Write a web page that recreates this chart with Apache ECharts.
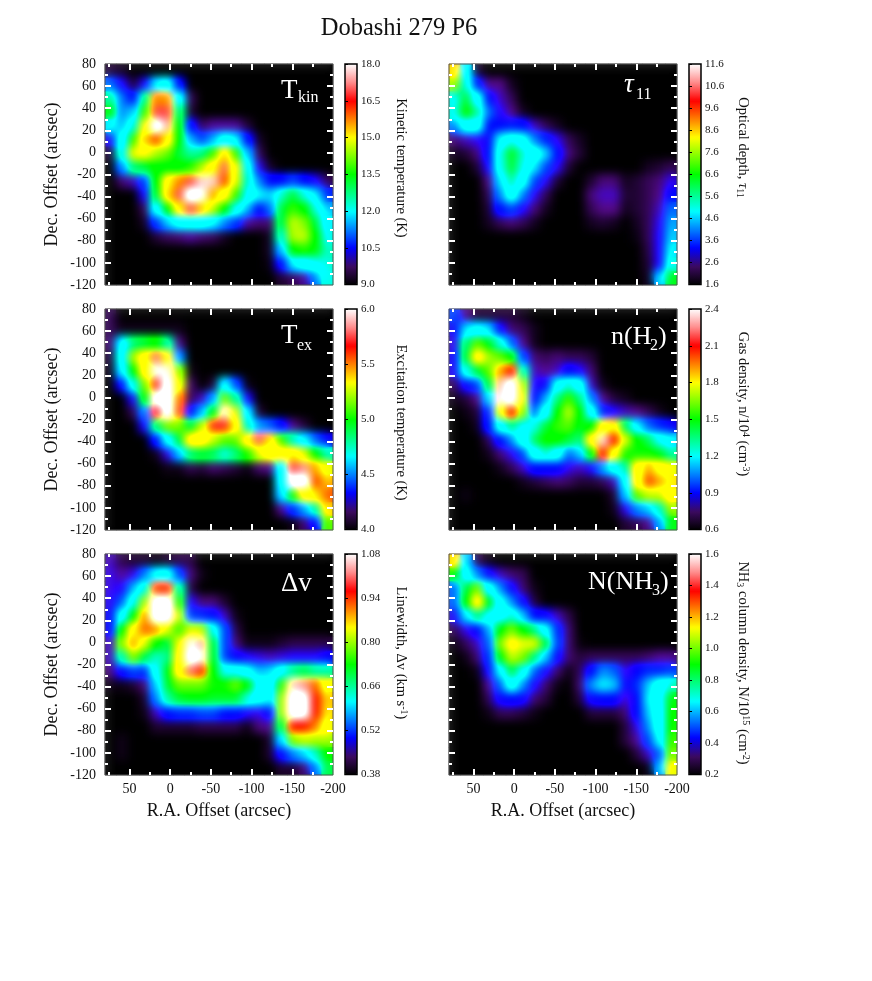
<!DOCTYPE html>
<html>
<head>
<meta charset="utf-8">
<title>Dobashi 279 P6</title>
<script src="https://cdn.jsdelivr.net/npm/echarts@6/dist/echarts.min.js"></script>
<style>
  html, body { margin: 0; background: #fff; }
  #maps, #frame { position: absolute; left: 0; top: 0; width: 872px; height: 981px; }
  .soft { position: absolute; width: 228px; height: 221px; backdrop-filter: blur(5px) brightness(1.35) saturate(1.15); }
</style>
</head>
<body>
<div id="maps"></div>
<div class="soft" style="left:105px;top:64px"></div>
<div class="soft" style="left:449px;top:64px"></div>
<div class="soft" style="left:105px;top:309px"></div>
<div class="soft" style="left:449px;top:309px"></div>
<div class="soft" style="left:105px;top:554px"></div>
<div class="soft" style="left:449px;top:554px"></div>
<div id="frame"></div>
<script>
var raOffsets = [73,59,45,31,17,3,-11,-25,-39,-53,-67,-81,-95,-109,-123,-137,-151,-165,-179,-193]
var decOffsets = [73.75,61.25,48.75,36.25,23.75,11.25,-1.25,-13.75,-26.25,-38.75,-51.25,-63.75,-76.25,-88.75,-101.25,-113.75]

var tkin = [
  [9.3,9.2,9,9,9,9,9,9,9,9,9,9,9,9,9,9,9,9,9,9],
  [11,10.2,9.3,10.2,11.7,12,10.5,9,9,9,9,9,9,9,9,9,9,9,9,9],
  [12.8,11,10.5,12.8,15.9,15.8,12,9.5,9,9,9,9,9,9,9,9,9,9,9,9],
  [13.5,11.1,11.4,13.8,16.8,16.8,12.9,9.3,9,9,9,9,9,9,9,9,9,9,9,9],
  [11.7,11.3,12.5,14.7,18,17.2,13.5,10.5,9.5,9.8,9.8,9.8,9.3,9,9,9,9,9,9,9],
  [10.2,12,13.8,15.6,16.2,15.3,13.5,11.3,10.8,11.3,12,11.7,10.5,9.2,9,9,9,9,9,9],
  [9.3,12.3,14.6,14.7,14.3,14,13.2,12.8,12.9,13.8,15.5,13.8,11.4,9.5,9,9,9,9,9,9],
  [9,11.1,12.9,13.2,13.5,13.5,13.5,13.7,14.3,15.3,16.9,14.7,12.3,10.1,9.2,9,9,9,9,9],
  [9,9.6,9.9,10.8,13.5,15.3,15.9,16.8,17.4,17.4,16.2,14.6,12.6,11.1,10.5,10.5,10.8,10.5,10.2,9.5],
  [9,9,9,10.2,13.2,15.5,16.8,18,17.7,15.8,14.9,13.8,12.3,11.6,11.4,12.6,13.2,12.5,11.6,10.7],
  [9,9,9,9.5,11.9,13.5,15.3,16.8,15.6,14.4,13.5,12.3,11.3,10.5,11,13.2,13.8,13.5,12.5,11.4],
  [9,9,9,9.2,10.7,11.4,11.9,12.3,12,11.7,11.1,10.7,9.8,9.6,9.6,13.1,14.4,14.1,13.2,11.9],
  [9,9,9,9,9.3,9.5,9.6,9.8,9.6,9.5,9.2,9,9,9,9.2,12.5,14.3,14.4,13.5,12.3],
  [9,9,9,9,9,9,9,9,9,9,9,9,9,9,9.2,11.4,13.5,13.7,13.4,12.6],
  [9,9,9,9,9,9,9,9,9,9,9,9,9,9,9.1,10.4,11.6,12,12.3,12.5],
  [9,9,9,9,9,9,9,9,9,9,9,9,9,9,9,9.3,9.5,9.8,11.1,12.3]
]
var tau11 = [
  [8.8,4.8,1.9,1.6,1.6,1.6,1.6,1.6,1.6,1.6,1.6,1.6,1.6,1.6,1.6,1.6,1.6,1.6,1.6,1.6],
  [7.4,5.4,3.4,2.4,2.4,1.8,1.6,1.6,1.6,1.6,1.6,1.6,1.6,1.6,1.6,1.6,1.6,1.6,1.6,1.6],
  [5.3,6.3,4.9,3.3,2.6,2.1,1.6,1.6,1.6,1.6,1.6,1.6,1.6,1.6,1.6,1.6,1.6,1.6,1.6,1.6],
  [5.4,6.6,5.8,3.8,2.9,2.4,1.8,1.6,1.6,1.6,1.6,1.6,1.6,1.6,1.6,1.6,1.6,1.6,1.6,1.6],
  [3.9,4.9,4.9,3.3,3.3,3.4,3.3,2.6,2.1,1.8,1.6,1.6,1.6,1.6,1.6,1.6,1.6,1.6,1.6,1.6],
  [2.3,2.6,2.8,3.1,4.6,5.4,4.8,3.9,3.4,2.8,2.1,1.8,1.6,1.6,1.6,1.6,1.6,1.6,1.6,1.6],
  [1.8,1.9,2.3,3.3,5.4,6.4,5.6,4.9,4.3,3.3,2.3,1.9,1.6,1.6,1.6,1.6,1.6,1.6,1.6,1.6],
  [1.6,1.6,1.9,2.9,5.3,6.3,5.4,4.4,3.6,2.8,1.9,1.6,1.6,1.6,1.6,1.6,1.6,1.8,1.9,2.1],
  [1.6,1.6,1.6,2.4,4.4,5.8,4.8,3.6,2.8,1.9,1.6,1.6,1.9,2.3,2.3,1.8,1.9,2.1,2.3,2.8],
  [1.6,1.6,1.6,2.1,3.9,5.1,3.9,2.8,2.1,1.6,1.6,1.6,2.3,2.6,2.6,1.9,1.9,2.1,2.4,3.3],
  [1.6,1.6,1.6,1.9,3.3,3.6,2.9,2.3,1.8,1.6,1.6,1.6,2.1,2.4,2.4,1.8,1.9,2.1,2.6,3.8],
  [1.6,1.6,1.6,1.8,2.1,2.3,2.1,1.8,1.6,1.6,1.6,1.6,1.8,1.9,1.8,1.6,1.8,2.1,2.8,4.1],
  [1.6,1.6,1.6,1.6,1.6,1.6,1.6,1.6,1.6,1.6,1.6,1.6,1.6,1.6,1.6,1.6,1.7,2.1,2.9,4.3],
  [1.6,1.6,1.6,1.6,1.6,1.6,1.6,1.6,1.6,1.6,1.6,1.6,1.6,1.6,1.6,1.6,1.6,2,2.9,4.6],
  [1.6,1.6,1.6,1.6,1.6,1.6,1.6,1.6,1.6,1.6,1.6,1.6,1.6,1.6,1.6,1.6,1.6,1.9,2.9,5.3],
  [1.6,1.6,1.6,1.6,1.6,1.6,1.6,1.6,1.6,1.6,1.6,1.6,1.6,1.6,1.6,1.6,1.6,1.8,4.4,6.4]
]
var tex = [
  [4.1,4,4,4,4,4,4,4,4,4,4,4,4,4,4,4,4,4,4,4],
  [4.1,4.03,4.03,4.03,4.03,4.03,4.03,4,4,4,4,4,4,4,4,4,4,4,4,4],
  [4.13,4.63,4.87,4.93,5,4.8,4.17,4,4,4,4,4,4,4,4,4,4,4,4,4],
  [4.07,4.7,5.17,5.4,5.77,5.4,4.5,4,4,4,4,4,4,4,4,4,4,4,4,4],
  [4.03,4.6,5,5.33,5.93,5.9,5.17,4.03,4,4,4,4,4,4,4,4,4,4,4,4],
  [4,4.3,4.73,5.13,5.7,6,5.27,4.13,4,4.07,4.63,4.4,4.02,4,4,4,4,4,4,4],
  [4,4,4.27,5,6,6,5.53,4.1,4.2,4.5,5.13,4.83,4.27,4,4,4,4,4,4,4],
  [4,4,4.1,4.47,5.7,6,5.57,4.33,4.53,5,5.9,5.23,4.6,4.07,4,4,4,4,4,4],
  [4,4,4,4.27,4.87,5.13,5.13,4.93,5.2,5.7,5.7,5.4,4.8,4.5,4.43,4.33,4.17,4.07,4,4],
  [4,4,4,4,4.33,4.63,4.93,5.37,5.37,5.2,5.1,5.1,5.4,5.75,5.43,5.07,4.8,4.6,4.43,4.3],
  [4,4,4,4,4.03,4.23,4.53,4.87,4.93,4.9,4.77,4.87,5.03,5.23,5.33,5.33,5.43,5.23,5,4.8],
  [4,4,4,4,4,4.03,4.03,4.1,4.07,4.13,4.1,4.07,4.02,4.13,4.17,4.67,5.73,5.8,5.5,5.27],
  [4,4,4,4,4,4,4,4,4,4,4,4,4,4,4,4.63,6,6,5.6,5.47],
  [4,4,4,4,4,4,4,4,4,4,4,4,4,4,4,4.57,5.03,5.33,5.43,5.57],
  [4,4,4,4,4,4,4,4,4,4,4,4,4,4,4,4.17,4.37,4.5,4.83,5.43],
  [4,4,4,4,4,4,4,4,4,4,4,4,4,4,4,4,4.03,4.13,4.33,5.1]
]
var nH2 = [
  [.96,.75,.66,.66,.66,.66,.63,.6,.6,.6,.6,.6,.6,.6,.6,.6,.6,.6,.6,.6],
  [.87,1.11,1.17,1.11,.87,.72,.69,.63,.6,.6,.6,.6,.6,.6,.6,.6,.6,.6,.6,.6],
  [.81,1.38,1.59,1.47,1.29,.99,.75,.63,.6,.6,.6,.6,.6,.6,.6,.6,.6,.6,.6,.6],
  [.87,1.44,1.8,1.65,1.59,1.5,.96,.72,.69,.72,.69,.69,.66,.6,.6,.6,.6,.6,.6,.6],
  [.84,1.26,1.44,1.59,1.95,2.1,1.32,.78,.75,.78,.9,.84,.72,.6,.6,.6,.6,.6,.6,.6],
  [.69,.87,.96,1.44,2.25,2.4,1.68,.84,.87,1.17,1.32,1.2,.78,.63,.6,.6,.6,.6,.6,.6],
  [.63,.66,.75,1.11,2.3,2.4,1.74,.9,1.05,1.38,1.56,1.38,1.02,.75,.66,.63,.6,.6,.6,.6],
  [.6,.62,.66,.93,1.74,2.1,1.65,.99,1.2,1.5,1.68,1.5,1.2,.93,.84,.78,.75,.69,.63,.6],
  [.6,.6,.63,.9,1.2,1.38,1.26,1.29,1.44,1.56,1.59,1.47,1.5,1.83,1.86,1.41,1.14,.99,.93,.87],
  [.6,.6,.6,.69,.9,1.02,1.2,1.41,1.5,1.5,1.44,1.38,1.89,2.3,2.1,1.71,1.5,1.41,1.26,1.14],
  [.6,.6,.6,.63,.72,.81,.96,1.2,1.32,1.2,.99,1.08,1.5,2.1,1.8,1.53,1.53,1.53,1.47,1.35],
  [.6,.6,.6,.6,.63,.69,.78,.9,.9,.9,.81,.78,.84,1.05,1.23,1.35,1.8,1.95,1.83,1.74],
  [.6,.6,.6,.6,.6,.6,.63,.66,.69,.72,.7,.66,.66,.69,.78,1.17,1.8,2.04,1.95,1.86],
  [.6,.62,.6,.6,.6,.6,.6,.6,.6,.6,.6,.6,.6,.6,.66,1.08,1.59,1.68,1.68,1.8],
  [.6,.6,.6,.6,.6,.6,.6,.6,.6,.6,.6,.6,.6,.6,.63,.81,1.02,1.08,1.32,1.65],
  [.6,.6,.6,.6,.6,.6,.6,.6,.6,.6,.6,.6,.6,.6,.6,.66,.69,.75,1.05,1.47]
]
var linewidth = [
  [.45,.41,.4,.4,.39,.4,.41,.41,.38,.38,.38,.38,.38,.38,.38,.38,.38,.38,.38,.38],
  [.46,.44,.46,.54,.6,.61,.52,.43,.39,.38,.38,.38,.38,.38,.38,.38,.38,.38,.38,.38],
  [.46,.47,.56,.65,.94,.95,.66,.41,.38,.38,.38,.38,.38,.38,.38,.38,.38,.38,.38,.38],
  [.47,.53,.64,.79,1.08,1.08,.75,.47,.43,.43,.4,.38,.38,.38,.38,.38,.38,.38,.38,.38],
  [.49,.61,.73,.91,1.08,1.08,.81,.52,.51,.5,.45,.39,.38,.38,.38,.38,.38,.38,.38,.38],
  [.49,.73,.87,.93,.91,.81,.75,.81,.8,.64,.52,.41,.38,.38,.38,.38,.38,.38,.38,.38],
  [.45,.78,.91,.81,.73,.7,.82,1.05,1.02,.71,.52,.43,.39,.39,.39,.4,.41,.41,.41,.41],
  [.45,.66,.78,.7,.66,.68,.84,1.08,1.05,.72,.52,.49,.47,.46,.45,.46,.47,.47,.47,.49],
  [.43,.49,.52,.51,.63,.72,.87,1,.95,.73,.64,.64,.6,.56,.57,.63,.68,.7,.67,.67],
  [.39,.39,.4,.43,.57,.71,.77,.77,.77,.74,.74,.77,.73,.63,.6,.75,1.03,1.01,.93,.84],
  [.38,.38,.38,.4,.54,.67,.71,.72,.72,.71,.71,.71,.65,.6,.58,.79,1.08,1.07,.96,.89],
  [.38,.38,.38,.39,.45,.5,.51,.51,.52,.52,.5,.5,.47,.46,.5,.79,1.08,1.07,.96,.88],
  [.38,.38,.38,.38,.4,.4,.4,.4,.41,.41,.41,.41,.39,.43,.44,.7,.96,.96,.92,.84],
  [.38,.39,.38,.38,.38,.38,.38,.38,.38,.38,.38,.38,.38,.38,.4,.58,.78,.8,.79,.79],
  [.38,.39,.38,.38,.38,.38,.38,.38,.38,.38,.38,.38,.38,.38,.4,.49,.54,.57,.66,.73],
  [.38,.38,.38,.38,.38,.38,.38,.38,.38,.38,.38,.38,.38,.38,.38,.4,.4,.43,.54,.7]
]
var nNH3 = [
  [1.2,.6,.27,.22,.2,.2,.2,.2,.2,.2,.2,.2,.2,.2,.2,.2,.2,.2,.2,.2],
  [.9,.64,.53,.41,.34,.29,.27,.2,.2,.2,.2,.2,.2,.2,.2,.2,.2,.2,.2,.2],
  [.5,.85,.99,.67,.53,.41,.29,.22,.2,.2,.2,.2,.2,.2,.2,.2,.2,.2,.2,.2],
  [.5,.9,1.18,.88,.64,.53,.41,.25,.2,.2,.2,.2,.2,.2,.2,.2,.2,.2,.2,.2],
  [.39,.6,.81,.71,.69,.76,.57,.43,.41,.34,.26,.2,.2,.2,.2,.2,.2,.2,.2,.2],
  [.27,.36,.43,.55,.9,.99,.9,.81,.64,.46,.29,.2,.2,.2,.2,.2,.2,.2,.2,.2],
  [.22,.27,.34,.5,.99,1.11,1.06,1.06,.85,.48,.29,.21,.2,.2,.2,.2,.2,.2,.2,.2],
  [.2,.22,.29,.46,.88,1.04,.99,.81,.57,.41,.29,.25,.27,.27,.27,.27,.27,.29,.32,.32],
  [.2,.2,.22,.39,.62,.85,.71,.5,.39,.29,.22,.27,.43,.53,.5,.36,.43,.46,.46,.48],
  [.2,.2,.2,.32,.5,.67,.53,.39,.29,.22,.2,.29,.53,.6,.57,.41,.46,.57,.67,.76],
  [.2,.2,.2,.27,.41,.43,.41,.29,.25,.2,.2,.25,.41,.43,.43,.34,.43,.6,.69,.88],
  [.2,.2,.2,.22,.27,.27,.25,.22,.2,.2,.2,.2,.25,.25,.25,.29,.43,.57,.67,.9],
  [.2,.2,.2,.2,.2,.2,.2,.2,.2,.2,.2,.2,.2,.2,.2,.25,.36,.53,.67,.92],
  [.2,.2,.2,.2,.2,.2,.2,.2,.2,.2,.2,.2,.2,.2,.2,.25,.32,.48,.62,.95],
  [.2,.2,.2,.2,.2,.2,.2,.2,.2,.2,.2,.2,.2,.2,.2,.2,.25,.34,.5,.99],
  [.2,.2,.2,.2,.2,.2,.2,.2,.2,.2,.2,.2,.2,.2,.2,.2,.2,.22,.57,1.11]
]

var tkinTicks = [9,10.5,12,13.5,15,16.5,18]
var tau11Ticks = [1.6,2.6,3.6,4.6,5.6,6.6,7.6,8.6,9.6,10.6,11.6]
var texTicks = [4,4.5,5,5.5,6]
var nH2Ticks = [.6,.9,1.2,1.5,1.8,2.1,2.4]
var linewidthTicks = [.38,.52,.66,.8,.94,1.08]
var nNH3Ticks = [.2,.4,.6,.8,1,1.2,1.4,1.6]

var raMajor = [50,0,-50,-100,-150]
var raMinor = [75,25,-25,-75,-125,-175]
var raLabels = [50,0,-50,-100,-150,-200]
var decMajor = [60,40,20,0,-20,-40,-60,-80,-100]
var decMinor = [70,50,30,10,-10,-30,-50,-70,-90,-110]
var decLabels = [80,60,40,20,0,-20,-40,-60,-80,-100,-120]

var serif = '"Liberation Serif", "Times New Roman", serif'
var ramp = ['#000000','#3c0a60','#0000ff','#0080ff','#00ffff','#00ff80','#00ff00','#80ff00','#ffff00','#ff8000','#ff0000','#ff8c8c','#ffffff']

var panels = [
  {values: tkin, ticks: tkinTicks, digits: 1, left: 105, top: 64},
  {values: tau11, ticks: tau11Ticks, digits: 1, left: 449, top: 64},
  {values: tex, ticks: texTicks, digits: 1, left: 105, top: 309},
  {values: nH2, ticks: nH2Ticks, digits: 1, left: 449, top: 309},
  {values: linewidth, ticks: linewidthTicks, digits: 2, left: 105, top: 554},
  {values: nNH3, ticks: nNH3Ticks, digits: 1, left: 449, top: 554}
]
var plotW = 228
var plotH = 221
var barGap = 12
var barW = 12

// bottom layer: colour maps and colour bars
var mapOption = {animation: false, grid: [], xAxis: [], yAxis: [], visualMap: [], series: []}
panels.forEach(function (p, i) {
  var cells = []
  p.values.forEach(function (row, j) {
    row.forEach(function (v, k) { cells.push([k, j, v]) })
  })
  var n = p.ticks.length - 1
  mapOption.grid.push({left: p.left, top: p.top, width: plotW, height: plotH, backgroundColor: '#000', show: true, borderWidth: 0})
  mapOption.xAxis.push({type: 'category', gridIndex: i, data: raOffsets, show: false})
  mapOption.yAxis.push({type: 'category', gridIndex: i, data: decOffsets, inverse: true, show: false})
  mapOption.visualMap.push({
    type: 'continuous', seriesIndex: i, min: p.ticks[0], max: p.ticks[n],
    left: p.left + plotW + barGap, top: p.top, itemWidth: barW, itemHeight: plotH,
    padding: 0, text: ['', ''], showLabel: false, calculable: false, hoverLink: false,
    inRange: {color: ramp}
  })
  mapOption.series.push({type: 'heatmap', xAxisIndex: i, yAxisIndex: i, data: cells, silent: true, progressive: 0})
})
echarts.init(document.getElementById('maps')).setOption(mapOption)

function sideAxis (kind, i, position, ticks, len, extra) {
  var axis = {
    type: 'value', gridIndex: i, position: position,
    min: kind === 'x' ? -200 : -120, max: 80,
    inverse: kind === 'x', splitLine: {show: false}, axisLine: {show: false, onZero: false},
    axisTick: {show: true, inside: true, length: len, customValues: ticks, lineStyle: {color: '#fff', width: 2}},
    axisLabel: {show: false}
  }
  return Object.assign(axis, extra || {})
}
function labelStyle (values, margin) {
  return {show: true, customValues: values, color: '#111', fontFamily: serif, fontSize: 14, margin: margin}
}
var nameFont = {fontFamily: serif, fontSize: 18, color: '#111'}

var frameOption = {
  animation: false,
  title: {text: 'Dobashi 279 P6', left: 394, top: 11, textAlign: 'center', textStyle: {fontFamily: serif, fontSize: 24.5, fontWeight: 'normal', color: '#111'}},
  grid: [], xAxis: [], yAxis: [], graphic: []
}
panels.forEach(function (p, i) {
  var rect = {left: p.left, top: p.top, width: plotW, height: plotH}
  var major = frameOption.grid.length
  frameOption.grid.push(Object.assign({show: true, borderColor: '#555', borderWidth: 1}, rect))
  frameOption.grid.push(Object.assign({}, rect))
  var minor = major + 1
  var xBottom = {}
  if (i >= 4) {
    xBottom = {axisLabel: labelStyle(raLabels, 7), name: 'R.A. Offset (arcsec)', nameLocation: 'middle', nameGap: 27, nameTextStyle: nameFont}
  }
  frameOption.xAxis.push(sideAxis('x', major, 'bottom', raMajor, 6, xBottom))
  frameOption.xAxis.push(sideAxis('x', major, 'top', raMajor, 6))
  frameOption.xAxis.push(sideAxis('x', minor, 'bottom', raMinor, 3))
  frameOption.xAxis.push(sideAxis('x', minor, 'top', raMinor, 3))
  var yLeft = {}
  if (i % 2 === 0) {
    yLeft = {axisLabel: labelStyle(decLabels, 9), name: 'Dec. Offset (arcsec)', nameLocation: 'middle', nameGap: 44, nameTextStyle: nameFont}
  }
  frameOption.yAxis.push(sideAxis('y', major, 'left', decMajor, 6, yLeft))
  frameOption.yAxis.push(sideAxis('y', major, 'right', decMajor, 6))
  frameOption.yAxis.push(sideAxis('y', minor, 'left', decMinor, 3))
  frameOption.yAxis.push(sideAxis('y', minor, 'right', decMinor, 3))

  // colour bar outline and scale
  var bar = frameOption.grid.length
  frameOption.grid.push({show: true, borderColor: '#000', borderWidth: 1.5, left: p.left + plotW + barGap, top: p.top, width: barW, height: plotH - 0.5})
  frameOption.xAxis.push({type: 'value', gridIndex: bar, show: false})
  frameOption.yAxis.push({
    type: 'value', gridIndex: bar, position: 'right', min: p.ticks[0], max: p.ticks[p.ticks.length - 1],
    splitLine: {show: false}, axisLine: {show: false},
    axisTick: {show: true, length: 3, customValues: p.ticks, lineStyle: {color: '#000', width: 1}},
    axisLabel: {
      show: true, customValues: p.ticks, margin: 4, color: '#111', fontFamily: serif, fontSize: 11,
      formatter: (function (d) { return function (v) { return v.toFixed(d) } })(p.digits)
    }
  })
})

// white panel names: [text, x, baseline, size, italic]
var panelNames = [
  ['T', 281, 98.5, 27], ['kin', 298, 102, 16],
  ['\u03c4', 624, 93, 27, true], ['11', 636, 99, 16],
  ['T', 281, 343.5, 27], ['ex', 297, 350, 16],
  ['n(H', 611, 345, 26], ['2', 650, 350, 16], [')', 658, 345, 26],
  ['\u0394v', 281, 592, 27],
  ['N(NH', 588, 590, 26], ['3', 652, 595, 16], [')', 660, 590, 26]
]
panelNames.forEach(function (t) {
  frameOption.graphic.push({
    type: 'text', x: t[1], y: t[2] + t[3] * 0.21, silent: true,
    style: {text: t[0], fill: '#fff', fontFamily: serif, fontSize: t[3], fontStyle: t[4] ? 'italic' : 'normal', align: 'left', verticalAlign: 'bottom'}
  })
})

// colour bar titles, read top to bottom
var barTitles = [
  ['Kinetic temperature (K)', 400.5, 168],
  ['Optical depth, {i|\u03c4}{d|11}', 743, 147.5],
  ['Excitation temperature (K)', 400.5, 422.5],
  ['Gas density, n/10{u|4} (cm{u|-3})', 743, 404],
  ['Linewidth, \u0394v (km s{u|-1})', 400.5, 653],
  ['NH{d|3} column density, N/10{u|15} (cm{u|-2})', 743, 663]
]
barTitles.forEach(function (t) {
  frameOption.graphic.push({
    type: 'text', x: t[1], y: t[2], rotation: -Math.PI / 2, silent: true,
    style: {
      text: t[0], fill: '#111', fontFamily: serif, fontSize: 14.5, lineHeight: 16, align: 'center', verticalAlign: 'middle',
      rich: {
        u: {fontFamily: serif, fontSize: 10, lineHeight: 10, verticalAlign: 'top', fill: '#111'},
        d: {fontFamily: serif, fontSize: 10, lineHeight: 10, verticalAlign: 'bottom', fill: '#111'},
        i: {fontFamily: serif, fontSize: 14.5, fontStyle: 'italic', fill: '#111'}
      }
    }
  })
})
echarts.init(document.getElementById('frame')).setOption(frameOption)
</script>
</body>
</html>
